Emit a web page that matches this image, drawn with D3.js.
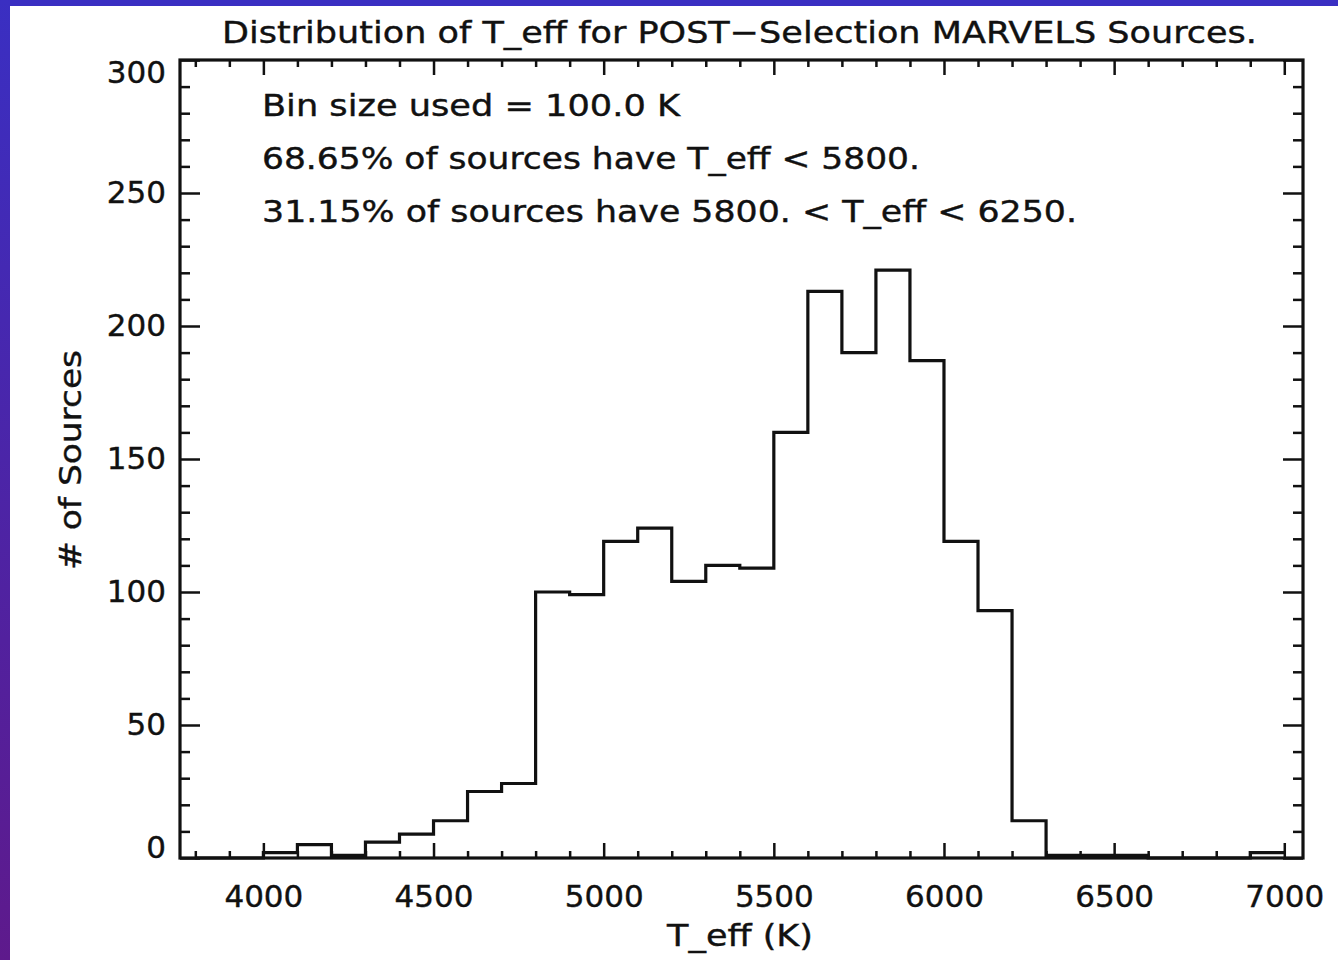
<!DOCTYPE html>
<html>
<head>
<meta charset="utf-8">
<script src="https://cdn.jsdelivr.net/npm/d3@7"></script>
<style>
  body { margin: 0; background: #fff; }
  svg { display: block; }
  text { font-family: "DejaVu Sans", sans-serif; fill: #111; stroke: #111; stroke-width: 0.4px; }
</style>
</head>
<body>
<div id="chart"></div>
<script>
// histogram of effective temperatures, 100 K bins
const binStarts = [3800, 3900, 4000, 4100, 4200, 4300, 4400, 4500, 4600, 4700,
                   4800, 4900, 5000, 5100, 5200, 5300, 5400, 5500, 5600, 5700,
                   5800, 5900, 6000, 6100, 6200, 6300, 6400, 6500, 6600, 6700,
                   6800, 6900];
const binCounts = [0, 0, 2, 5, 1, 6, 9, 14, 25, 28,
                   100, 99, 119, 124, 104, 110, 109, 160, 213, 190,
                   221, 187, 119, 93, 14, 1, 1, 1, 0, 0,
                   0, 2];
const binSize = 100;

const xMajor = [4000, 4500, 5000, 5500, 6000, 6500, 7000];
const yMajor = [0, 50, 100, 150, 200, 250, 300];

const titleText = "Distribution of T_eff for POST\u2212Selection MARVELS Sources.";
const noteLines = [
  "Bin size used = 100.0 K",
  "68.65% of sources have T_eff < 5800.",
  "31.15% of sources have 5800. < T_eff < 6250."
];

const W = 1338, H = 960;
const margin = {top: 60, right: 35, bottom: 102, left: 180};
const width = W - margin.left - margin.right;
const height = H - margin.top - margin.bottom;

const svg = d3.select("#chart").append("svg")
    .attr("width", W)
    .attr("height", H);

// slide frame: blue strip on top, blue-to-purple strip on the left
const defs = svg.append("defs");
const grad = defs.append("linearGradient")
    .attr("id", "edgeGrad")
    .attr("x1", 0).attr("y1", 0).attr("x2", 0).attr("y2", 1);
grad.append("stop").attr("offset", "0%").attr("stop-color", "#3a2fc2");
grad.append("stop").attr("offset", "100%").attr("stop-color", "#5e1a8c");

svg.append("rect").attr("width", W).attr("height", H).attr("fill", "#fff");
svg.append("rect").attr("width", W).attr("height", 6).attr("fill", "#3a2fc2");
svg.append("rect").attr("width", 10).attr("height", H).attr("fill", "url(#edgeGrad)");

const g = svg.append("g")
    .attr("transform", "translate(" + margin.left + "," + margin.top + ")");

const xScale = d3.scaleLinear().domain([3755, 7055]).range([0, width]);
const yScale = d3.scaleLinear().domain([0, 300]).range([height, 0]);

const xMinor = d3.range(3800, 7001, 100).filter(v => !xMajor.includes(v));
const yMinor = d3.range(0, 301, 10).filter(v => !yMajor.includes(v));

// IDL style ticks on all four sides, pointing inwards
function styleAxis(sel) {
    sel.select(".domain").remove();
    sel.selectAll("line").attr("stroke", "#111").attr("stroke-width", 2.5);
    sel.selectAll("text").style("font-size", "31px").attr("fill", "#111");
}

g.append("g").attr("transform", "translate(0," + height + ")")
    .call(d3.axisBottom(xScale).tickValues(xMajor).tickSizeInner(-15).tickSizeOuter(0).tickPadding(27).tickFormat(d3.format("d")))
    .call(styleAxis);
g.append("g").attr("transform", "translate(0," + height + ")")
    .call(d3.axisBottom(xScale).tickValues(xMinor).tickSizeInner(-7).tickSizeOuter(0).tickFormat(""))
    .call(styleAxis);
g.append("g")
    .call(d3.axisTop(xScale).tickValues(xMajor).tickSizeInner(-15).tickSizeOuter(0).tickFormat(""))
    .call(styleAxis);
g.append("g")
    .call(d3.axisTop(xScale).tickValues(xMinor).tickSizeInner(-7).tickSizeOuter(0).tickFormat(""))
    .call(styleAxis);

const leftAxisG = g.append("g")
    .call(d3.axisLeft(yScale).tickValues(yMajor).tickSizeInner(-20).tickSizeOuter(0).tickPadding(14).tickFormat(d3.format("d")))
    .call(styleAxis);
g.append("g")
    .call(d3.axisLeft(yScale).tickValues(yMinor).tickSizeInner(-10).tickSizeOuter(0).tickFormat(""))
    .call(styleAxis);
g.append("g").attr("transform", "translate(" + width + ",0)")
    .call(d3.axisRight(yScale).tickValues(yMajor).tickSizeInner(-20).tickSizeOuter(0).tickFormat(""))
    .call(styleAxis);
g.append("g").attr("transform", "translate(" + width + ",0)")
    .call(d3.axisRight(yScale).tickValues(yMinor).tickSizeInner(-10).tickSizeOuter(0).tickFormat(""))
    .call(styleAxis);

// end labels are nudged inside the frame
leftAxisG.selectAll(".tick text")
    .attr("dy", d => d === 0 ? "-0.02em" : (d === 300 ? "0.72em" : "0.32em"));

// step outline of the histogram
const stepPts = [];
binStarts.forEach((b, i) => {
    stepPts.push([xScale(b), yScale(binCounts[i])]);
    stepPts.push([xScale(b + binSize), yScale(binCounts[i])]);
});
g.append("path")
    .attr("d", d3.line()(stepPts))
    .attr("fill", "none")
    .attr("stroke", "#111")
    .attr("stroke-width", 3.2)
    .attr("stroke-linejoin", "miter");

// plot frame
g.append("rect")
    .attr("width", width)
    .attr("height", height)
    .attr("fill", "none")
    .attr("stroke", "#111")
    .attr("stroke-width", 3.2);

// title
svg.append("text")
    .attr("x", 222).attr("y", 43)
    .attr("textLength", 1035)
    .attr("lengthAdjust", "spacingAndGlyphs")
    .style("font-size", "31px")
    .text(titleText);

// annotation lines
const noteWidths = [418, 658, 815];
noteLines.forEach((t, i) => {
    svg.append("text")
        .attr("x", 262).attr("y", 116 + i * 53)
        .attr("textLength", noteWidths[i])
        .attr("lengthAdjust", "spacingAndGlyphs")
        .style("font-size", "30px")
        .text(t);
});

// axis titles
svg.append("text")
    .attr("x", 667).attr("y", 946)
    .attr("textLength", 146)
    .attr("lengthAdjust", "spacingAndGlyphs")
    .style("font-size", "31px")
    .text("T_eff  (K)");

svg.append("text")
    .attr("transform", "translate(81,570) rotate(-90)")
    .attr("textLength", 220)
    .attr("lengthAdjust", "spacingAndGlyphs")
    .style("font-size", "31px")
    .text("# of Sources");
</script>
</body>
</html>
